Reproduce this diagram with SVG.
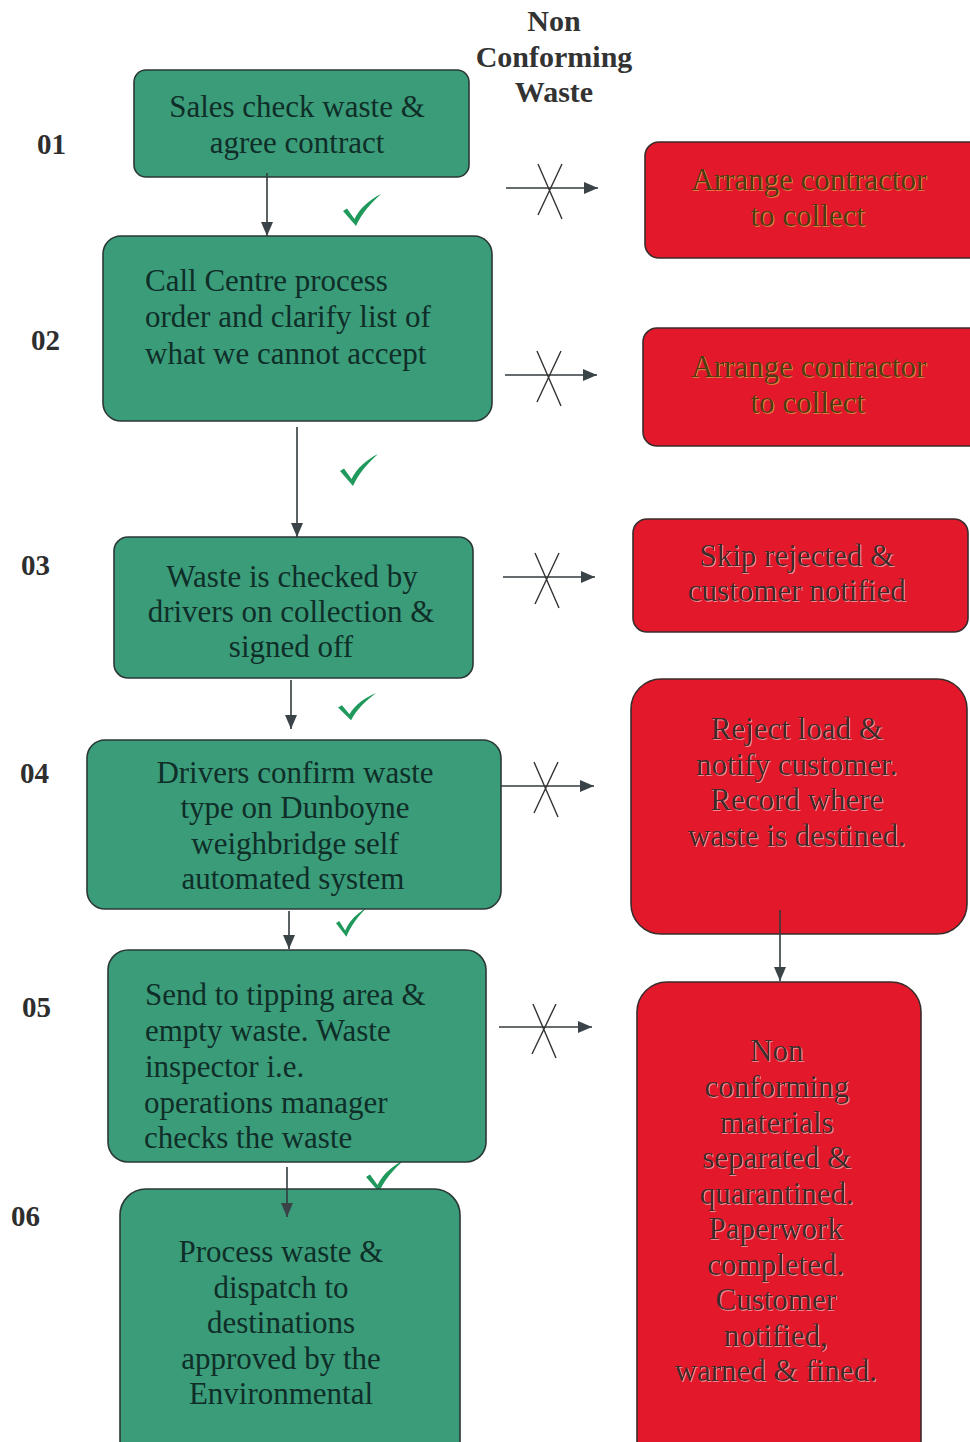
<svg xmlns="http://www.w3.org/2000/svg" width="970" height="1442" viewBox="0 0 970 1442">
<style>
.g{fill:#3b9c7a;stroke:#2a3836;stroke-width:1.6}
.r{fill:#e3192b;stroke:#3a2c2c;stroke-width:1.6}
.t{font-family:"Liberation Serif","Times New Roman",serif;font-size:31px}
.tg{fill:#0f2e28}
.tr1{fill:#4e3c16}
.tr2{fill:#3e2c2c}
.num{font-family:"Liberation Serif","Times New Roman",serif;font-size:29px;font-weight:bold;fill:#2e2e2e}
.title{font-family:"Liberation Serif","Times New Roman",serif;font-size:30px;font-weight:bold;fill:#333;text-anchor:middle}
.c{text-anchor:middle}
.ln{stroke:#333b3d;stroke-width:1.6;fill:none}
.x{stroke:#333;stroke-width:1.4;fill:none}
.ck{fill:#1f9a5c}
</style>
<defs>
<marker id="ah" viewBox="0 0 14 12" refX="14" refY="6" markerWidth="14" markerHeight="12" markerUnits="userSpaceOnUse" orient="auto">
<path d="M0,0 L14,6 L0,12 Z" fill="#3a4448"/>
</marker>
<path id="check" d="M0,17 L4,14.5 L11.5,25 C17,14 26,6 38,0 C28,9 19,19 13,32 Z"/>
<filter id="hl" x="-5%" y="-5%" width="110%" height="120%">
<feFlood flood-color="#e8c850" flood-opacity="0.55"/>
<feComposite in2="SourceAlpha" operator="in"/>
<feOffset dx="0.8" dy="0.8" result="s"/>
<feMerge><feMergeNode in="s"/><feMergeNode in="SourceGraphic"/></feMerge>
</filter>
<filter id="hw" x="-5%" y="-5%" width="110%" height="120%">
<feFlood flood-color="#ffd0d0" flood-opacity="0.6"/>
<feComposite in2="SourceAlpha" operator="in"/>
<feOffset dx="0.8" dy="0.8" result="s"/>
<feMerge><feMergeNode in="s"/><feMergeNode in="SourceGraphic"/></feMerge>
</filter>
</defs>
<rect width="970" height="1442" fill="#ffffff"/>

<g id="title">
<text class="title" x="554" y="31">Non</text>
<text class="title" x="554" y="67">Conforming</text>
<text class="title" x="554" y="102">Waste</text>
</g>

<g id="step-numbers">
<text class="num" x="37" y="154">01</text>
<text class="num" x="31" y="350">02</text>
<text class="num" x="21" y="575">03</text>
<text class="num" x="20" y="783">04</text>
<text class="num" x="22" y="1017">05</text>
<text class="num" x="11" y="1226">06</text>
</g>

<g id="checks">
<use href="#check" class="ck" transform="translate(343,194)"/>
<use href="#check" class="ck" transform="translate(340,454)"/>
<use href="#check" class="ck" transform="translate(338,693) scale(1,0.85)"/>
<use href="#check" class="ck" transform="translate(336,908) scale(0.8,0.9)"/>
<use href="#check" class="ck" transform="translate(366,1160)"/>
</g>

<g id="n01">
<rect class="g" x="134" y="70" width="335" height="107" rx="12"/>
<text class="t tg c" x="297" y="117">Sales check waste &amp;</text>
<text class="t tg c" x="297" y="153">agree contract</text>
</g>

<g id="n02">
<rect class="g" x="103" y="236" width="389" height="185" rx="18"/>
<text class="t tg" x="145" y="291">Call Centre process</text>
<text class="t tg" x="145" y="327">order and clarify list of</text>
<text class="t tg" x="145" y="364">what we cannot accept</text>
</g>

<g id="n03">
<rect class="g" x="114" y="537" width="359" height="141" rx="14"/>
<text class="t tg c" x="292" y="587">Waste is checked by</text>
<text class="t tg c" x="291" y="622">drivers on collection &amp;</text>
<text class="t tg c" x="291" y="657">signed off</text>
</g>

<g id="n04">
<rect class="g" x="87" y="740" width="414" height="169" rx="18"/>
<text class="t tg c" x="295" y="783">Drivers confirm waste</text>
<text class="t tg c" x="295" y="818">type on Dunboyne</text>
<text class="t tg c" x="295" y="854">weighbridge self</text>
<text class="t tg c" x="293" y="889">automated system</text>
</g>

<g id="n05">
<rect class="g" x="108" y="950" width="378" height="212" rx="20"/>
<text class="t tg" x="145" y="1005">Send to tipping area &amp;</text>
<text class="t tg" x="145" y="1041">empty waste. Waste</text>
<text class="t tg" x="145" y="1077">inspector i.e.</text>
<text class="t tg" x="144" y="1113">operations manager</text>
<text class="t tg" x="144" y="1148">checks the waste</text>
</g>

<g id="n06">
<rect class="g" x="120" y="1189" width="340" height="290" rx="26"/>
<text class="t tg c" x="281" y="1262">Process waste &amp;</text>
<text class="t tg c" x="281" y="1298">dispatch to</text>
<text class="t tg c" x="281" y="1333">destinations</text>
<text class="t tg c" x="281" y="1369">approved by the</text>
<text class="t tg c" x="281" y="1404">Environmental</text>
</g>

<g id="r01">
<rect class="r" x="645" y="142" width="345" height="116" rx="14"/>
<text class="t tr1 c" x="809" y="190" filter="url(#hl)">Arrange contractor</text>
<text class="t tr1 c" x="808" y="226" filter="url(#hl)">to collect</text>
</g>

<g id="r02">
<rect class="r" x="643" y="328" width="347" height="118" rx="14"/>
<text class="t tr1 c" x="809" y="377" filter="url(#hl)">Arrange contractor</text>
<text class="t tr1 c" x="808" y="413" filter="url(#hl)">to collect</text>
</g>

<g id="r03">
<rect class="r" x="633" y="519" width="335" height="113" rx="14"/>
<text class="t tr2 c" x="797" y="566" filter="url(#hw)">Skip rejected &amp;</text>
<text class="t tr2 c" x="797" y="601" filter="url(#hw)">customer notified</text>
</g>

<g id="r04">
<rect class="r" x="631" y="679" width="336" height="255" rx="30"/>
<text class="t tr2 c" x="797" y="739" filter="url(#hw)">Reject load &amp;</text>
<text class="t tr2 c" x="797" y="775" filter="url(#hw)">notify customer.</text>
<text class="t tr2 c" x="797" y="810" filter="url(#hw)">Record where</text>
<text class="t tr2 c" x="797" y="846" filter="url(#hw)">waste is destined.</text>
</g>

<g id="r05">
<rect class="r" x="637" y="982" width="284" height="500" rx="30"/>
<text class="t tr2 c" x="777" y="1061" filter="url(#hw)">Non</text>
<text class="t tr2 c" x="777" y="1097" filter="url(#hw)">conforming</text>
<text class="t tr2 c" x="777" y="1133" filter="url(#hw)">materials</text>
<text class="t tr2 c" x="777" y="1168" filter="url(#hw)">separated &amp;</text>
<text class="t tr2 c" x="777" y="1204" filter="url(#hw)">quarantined.</text>
<text class="t tr2 c" x="776" y="1239" filter="url(#hw)">Paperwork</text>
<text class="t tr2 c" x="776" y="1275" filter="url(#hw)">completed.</text>
<text class="t tr2 c" x="776" y="1310" filter="url(#hw)">Customer</text>
<text class="t tr2 c" x="776" y="1346" filter="url(#hw)">notified,</text>
<text class="t tr2 c" x="776" y="1381" filter="url(#hw)">warned &amp; fined.</text>
</g>

<g id="connectors">
<line class="ln" x1="267" y1="173" x2="267" y2="236" marker-end="url(#ah)"/>
<line class="ln" x1="297" y1="427" x2="297" y2="537" marker-end="url(#ah)"/>
<line class="ln" x1="291" y1="680" x2="291" y2="729" marker-end="url(#ah)"/>
<line class="ln" x1="289" y1="911" x2="289" y2="949" marker-end="url(#ah)"/>
<line class="ln" x1="287" y1="1167" x2="287" y2="1217" marker-end="url(#ah)"/>
<line class="ln" x1="780" y1="910" x2="780" y2="981" marker-end="url(#ah)"/>

<line class="ln" x1="506" y1="188" x2="598" y2="188" marker-end="url(#ah)"/>
<path class="x" d="M538,164 L562,219 M562,164 L538,215"/>
<line class="ln" x1="505" y1="375" x2="597" y2="375" marker-end="url(#ah)"/>
<path class="x" d="M537,351 L561,406 M561,351 L537,402"/>
<line class="ln" x1="503" y1="577" x2="595" y2="577" marker-end="url(#ah)"/>
<path class="x" d="M535,553 L559,608 M559,553 L535,604"/>
<line class="ln" x1="501" y1="786" x2="594" y2="786" marker-end="url(#ah)"/>
<path class="x" d="M534,762 L558,817 M558,762 L534,813"/>
<line class="ln" x1="499" y1="1027" x2="592" y2="1027" marker-end="url(#ah)"/>
<path class="x" d="M533,1004 L556,1058 M556,1004 L532,1054"/>
</g>
</svg>
